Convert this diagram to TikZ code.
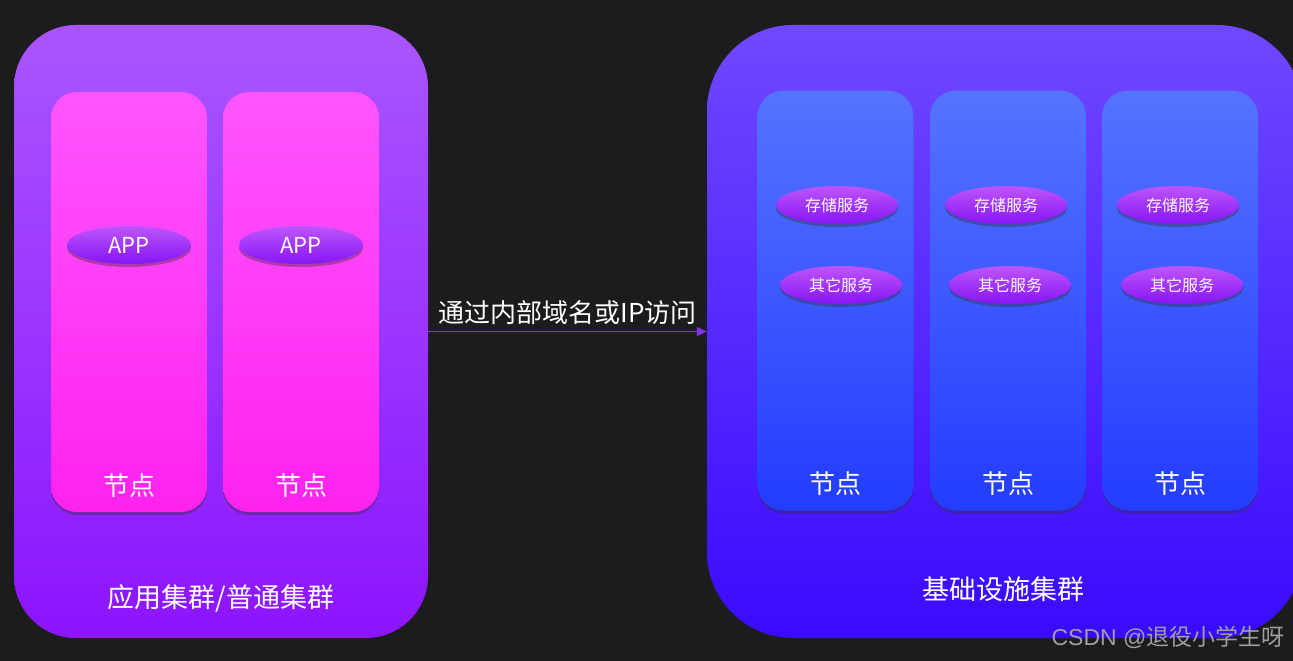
\documentclass[tikz,border=0pt]{standalone}
\usepackage{fontspec}
\setmainfont{Noto Sans CJK SC}
\setsansfont{Liberation Sans}
\definecolor{bgdark}{RGB}{28,28,30}
\definecolor{appTop}{RGB}{170,85,255}
\definecolor{appBottom}{RGB}{140,20,255}
\definecolor{pinkTop}{RGB}{255,85,255}
\definecolor{pinkBottom}{RGB}{255,34,238}
\definecolor{infTop}{RGB}{112,72,255}
\definecolor{infBottom}{RGB}{58,10,255}
\definecolor{blueTop}{RGB}{85,115,255}
\definecolor{blueBottom}{RGB}{35,60,255}
\definecolor{ovalTop}{RGB}{190,85,252}
\definecolor{ovalBottom}{RGB}{135,20,245}
\definecolor{linkline}{RGB}{130,50,230}
\usetikzlibrary{shapes.geometric,shadows,arrows.meta}

\begin{document}
\begin{tikzpicture}[x=1pt, y=-1pt, >={Triangle[length=10pt,width=9pt]},
    cluster/.style={minimum height=613pt, inner sep=0pt},
    worker/.style={rounded corners=26pt, minimum width=156pt, minimum height=420pt, inner sep=0pt,
      drop shadow={shadow xshift=0pt, shadow yshift=-3pt, opacity=0.4, fill=black!80}},
    oval/.style={ellipse, inner sep=0pt, top color=ovalTop, bottom color=ovalBottom, text=white,
      drop shadow={shadow xshift=0pt, shadow yshift=-3pt, opacity=0.4, fill=black!80}},
    bigtext/.style={text=white, font=\fontsize{26}{30}\selectfont}]
    \fill[bgdark] (0,0) rectangle (1293,661);
    \useasboundingbox (0,0) rectangle (1293,661);
    \clip (0,0) rectangle (1293,661);
    % clusters
    \node[cluster, rounded corners=62pt, minimum width=414pt, top color=appTop, bottom color=appBottom] (appcluster) at (221,331.5) {};
    \node[cluster, rounded corners=86pt, minimum width=596pt, top color=infTop, bottom color=infBottom] (infcluster) at (1005,331.5) {};
    % application nodes
    \node[worker, top color=pinkTop, bottom color=pinkBottom] (appnodeA) at (129,302) {};
    \node[worker, top color=pinkTop, bottom color=pinkBottom] (appnodeB) at (301,302) {};
    \node[oval, minimum width=124pt, minimum height=38pt, font=\fontsize{22}{24}\selectfont] (appA) at (129,245) {APP};
    \node[oval, minimum width=124pt, minimum height=38pt, font=\fontsize{22}{24}\selectfont] (appB) at (301,245) {APP};
    \node[bigtext] (appnodeAlabel) at (129,486) {节点};
    \node[bigtext] (appnodeBlabel) at (301,486) {节点};
    \node[bigtext, font=\fontsize{27}{30}\selectfont] (applabel) at (221,598) {应用集群/普通集群};
    % infrastructure nodes
    \node[worker, top color=blueTop, bottom color=blueBottom] (infnodeA) at (835.5,300.5) {};
    \node[worker, top color=blueTop, bottom color=blueBottom] (infnodeB) at (1008,300.5) {};
    \node[worker, top color=blueTop, bottom color=blueBottom] (infnodeC) at (1180,300.5) {};
    \node[oval, minimum width=122pt, minimum height=38pt, font=\fontsize{16}{18}\selectfont] (storeA) at (837,205) {存储服务};
    \node[oval, minimum width=122pt, minimum height=38pt, font=\fontsize{16}{18}\selectfont] (storeB) at (1006,205) {存储服务};
    \node[oval, minimum width=122pt, minimum height=38pt, font=\fontsize{16}{18}\selectfont] (storeC) at (1178,205) {存储服务};
    \node[oval, minimum width=122pt, minimum height=38pt, font=\fontsize{16}{18}\selectfont] (otherA) at (841,285) {其它服务};
    \node[oval, minimum width=122pt, minimum height=38pt, font=\fontsize{16}{18}\selectfont] (otherB) at (1010,285) {其它服务};
    \node[oval, minimum width=122pt, minimum height=38pt, font=\fontsize{16}{18}\selectfont] (otherC) at (1182,285) {其它服务};
    \node[bigtext] (infnodeAlabel) at (835,484) {节点};
    \node[bigtext] (infnodeBlabel) at (1008,484) {节点};
    \node[bigtext] (infnodeClabel) at (1180,484) {节点};
    \node[bigtext, font=\fontsize{27}{30}\selectfont] (inflabel) at (1003,589) {基础设施集群};
    % link between the clusters
    \draw[->, linkline, line width=1.2pt] (appcluster.east) -- (infcluster.west)
      node[midway, above, inner sep=6pt, bigtext] (linklabel) {通过内部域名或IP访问};
    % watermark
    \node[text=gray!75, font=\fontsize{23}{26}\selectfont] (watermark) at (1168,637) {\sffamily CSDN @\rmfamily 退役小学生呀};
  \end{tikzpicture}
\end{document}
